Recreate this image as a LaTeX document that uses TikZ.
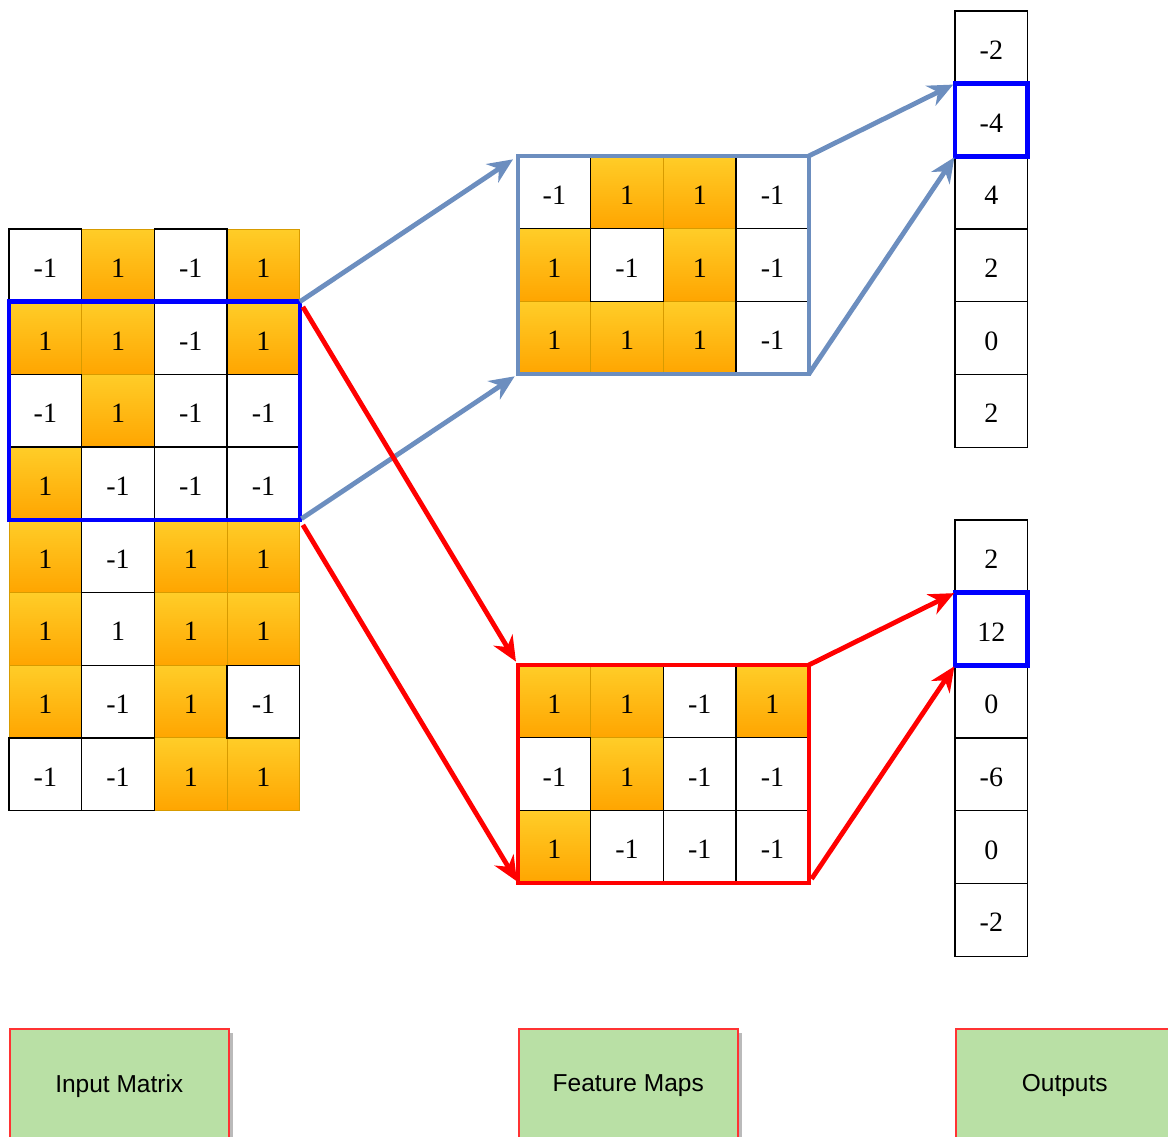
\documentclass[tikz,border=0pt]{standalone}
\usepackage{fontspec}
\setmainfont{Liberation Serif}
\newfontfamily\labelfamily{Liberation Sans}
\usetikzlibrary{arrows.meta,fit,shadows}

\definecolor{orTop}{HTML}{FFCD28}
\definecolor{orBot}{HTML}{FFA500}
\definecolor{orEdge}{HTML}{D79B00}
\definecolor{steel}{HTML}{6C8EBF}
\definecolor{selblue}{HTML}{0000FF}
\definecolor{hotred}{HTML}{FF0000}
\definecolor{tagfill}{HTML}{B9E0A5}
\definecolor{tagedge}{HTML}{FF3333}

\newcommand\numfont{\fontsize{28}{30}\selectfont}
\newcommand\tagfont{\labelfamily\fontsize{24.5}{26}\selectfont}
\def\kindhot{o}

\tikzset{
  cell/.style={minimum width=72.7pt, minimum height=72.7pt, inner sep=0pt,
    outer sep=0pt, anchor=north west, font=\numfont, text height=24pt, text depth=0pt},
  hot/.style={top color=orTop, bottom color=orBot, draw=orEdge, line width=1pt},
  cold/.style={fill=white, draw=black, line width=1.3pt},
  cellkind/.code={\edef\kindarg{#1}\ifx\kindarg\kindhot\pgfkeysalso{hot}\else\pgfkeysalso{cold}\fi},
  edgekind/.code={\edef\kindarg{#1}\ifx\kindarg\kindhot\else\pgfkeysalso{draw=black,line width=1.3pt}\fi},
  frame/.style={draw=#1, line width=4.5pt, inner sep=0pt, outer sep=0pt, fill=none},
  flow/.style={draw=#1, line width=4.8pt, line cap=butt,
    -{Stealth[length=25pt,width=22pt,inset=8pt]}},
  tag/.style={draw=tagedge, fill=tagfill, line width=1.5pt, anchor=north west,
    minimum height=109pt, inner sep=0pt, font=\tagfont, text depth=0pt,
    drop shadow={shadow xshift=4pt, shadow yshift=-4pt, fill=black!27, opacity=1}},
}

% grid of cells: name, left x, top y, rows of value/kind entries
\newcommand\cellgrid[4]{%
  \foreach \rowlist [count=\r] in {#4} {
    \foreach \v/\k [count=\c] in \rowlist {
      \node[cell, cellkind=\k] (#1-\r-\c) at ({#2+(\c-1)*72.7}, {#3+(\r-1)*72.7}) {\v};
    }
  }
  % black outlines of the plain cells go on top of the shaded ones
  \foreach \rowlist [count=\r] in {#4} {
    \foreach \v/\k [count=\c] in \rowlist {
      \path[edgekind=\k] (#1-\r-\c.north west) rectangle (#1-\r-\c.south east);
    }
  }
}

\begin{document}
\begin{tikzpicture}[x=1pt, y=-1pt]
\useasboundingbox (0,0) rectangle (1168,1137);

% input matrix
\cellgrid{in}{9}{229}{
  {-1/w,1/o,-1/w,1/o},
  {1/o,1/o,-1/w,1/o},
  {-1/w,1/o,-1/w,-1/w},
  {1/o,-1/w,-1/w,-1/w},
  {1/o,-1/w,1/o,1/o},
  {1/o,1/w,1/o,1/o},
  {1/o,-1/w,1/o,-1/w},
  {-1/w,-1/w,1/o,1/o}}

% feature maps
\cellgrid{fa}{518}{156}{
  {-1/w,1/o,1/o,-1/w},
  {1/o,-1/w,1/o,-1/w},
  {1/o,1/o,1/o,-1/w}}
\cellgrid{fb}{518}{665}{
  {1/o,1/o,-1/w,1/o},
  {-1/w,1/o,-1/w,-1/w},
  {1/o,-1/w,-1/w,-1/w}}

% outputs
\cellgrid{oa}{955}{11}{{-2/w},{-4/w},{4/w},{2/w},{0/w},{2/w}}
\cellgrid{ob}{955}{520}{{2/w},{12/w},{0/w},{-6/w},{0/w},{-2/w}}

% highlighted regions
\node[frame=selblue, fit=(in-2-1)(in-4-4)] (win) {};
\node[frame=steel, fit=(fa-1-1)(fa-3-4)] (fma) {};
\node[frame=hotred, fit=(fb-1-1)(fb-3-4)] (fmb) {};
\node[frame=selblue, fit=(oa-2-1)] (outa) {};
\node[frame=selblue, fit=(ob-2-1)] (outb) {};

% connectors
\draw[flow=steel, shorten >=6pt] (win.north east) -- (fma.north west);
\draw[flow=steel, shorten >=4pt, shorten <=2pt] (win.south east) -- (fma.south west);
\draw[flow=steel, shorten >=2pt] (fma.north east) -- (outa.north west);
\draw[flow=steel, shorten >=1pt] (fma.south east) -- (outa.south west);

\draw[flow=hotred, shorten <=6pt, shorten >=4pt] (win.north east) -- (fmb.north west);
\draw[flow=hotred, shorten <=6pt, shorten >=2pt] (win.south east) -- (fmb.south west);
\draw[flow=hotred, shorten >=1pt] (fmb.north east) -- (outb.north west);
\draw[flow=hotred, shorten <=5pt, shorten >=1pt] (fmb.south east) -- (outb.south west);

% captions
\node[tag, minimum width=219pt] (capin) at (9,1028) {Input Matrix};
\node[tag, minimum width=219pt] (capfm) at (518,1028) {Feature Maps};
\node[tag, minimum width=218pt] (capout) at (955,1028) {Outputs};
\end{tikzpicture}
\end{document}
